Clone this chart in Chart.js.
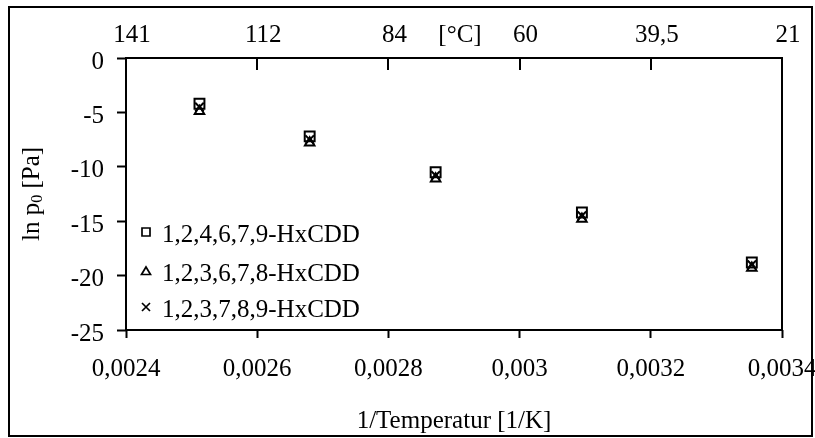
<!DOCTYPE html>
<html>
<head>
<meta charset="utf-8">
<script src="https://cdn.jsdelivr.net/npm/chart.js@4.4.1/dist/chart.umd.min.js"></script>
<style>
  html, body { margin: 0; padding: 0; background: #fff; }
  #chart { display: block; }
</style>
</head>
<body>
<canvas id="chart" width="815" height="438"></canvas>
<script>
// 1/T values of the measurements (125, 100, 75, 50, 25 °C)
const invTemps = [0.002512, 0.002680, 0.002872, 0.003095, 0.003354];
const hx124679 = [-4.2, -7.2, -10.5, -14.2, -18.8];
const hx123678 = [-4.9, -7.8, -11.1, -14.8, -19.3];
const hx123789 = [-4.5, -7.5, -10.8, -14.5, -19.0];
const seriesNames = ['1,2,4,6,7,9-HxCDD', '1,2,3,6,7,8-HxCDD', '1,2,3,7,8,9-HxCDD'];

const xTickValues = [0.0024, 0.0026, 0.0028, 0.0030, 0.0032, 0.0034];
const xTickLabels = ['0,0024', '0,0026', '0,0028', '0,003', '0,0032', '0,0034'];
const topTickValues = [0.0024, 0.0026, 0.0028, 0.0029, 0.0030, 0.0032, 0.0034];
const topTickLabels = ['141', '112', '84', '[°C]', '60', '39,5', '21'];
const yTickValues = [0, -5, -10, -15, -20, -25];

const FONT = '"Liberation Serif", "Times New Roman", serif';
const FS = 25;

const toPoints = ys => invTemps.map((x, i) => ({ x: x, y: ys[i] }));

function series(label, ys, style, radius) {
  return {
    label: label,
    data: toPoints(ys),
    showLine: false,
    pointStyle: style,
    pointRadius: radius,
    pointHoverRadius: radius,
    pointBorderColor: '#000',
    pointBackgroundColor: 'rgba(0,0,0,0)',
    pointBorderWidth: 2
  };
}

// frame, inward top ticks, y title with subscript, legend inside plot
const decor = {
  id: 'decor',
  afterDraw(c) {
    const ctx = c.ctx, a = c.chartArea;
    ctx.save();
    ctx.strokeStyle = '#000';
    ctx.fillStyle = '#000';
    ctx.lineWidth = 2;
    ctx.strokeRect(9, 7, 803, 429);
    ctx.strokeRect(a.left, a.top, a.right - a.left, a.bottom - a.top);

    const top = c.scales.xTop;
    xTickValues.forEach(v => {
      const px = Math.round(top.getPixelForValue(v));
      ctx.beginPath();
      ctx.moveTo(px, a.top);
      ctx.lineTo(px, a.top + 12);
      ctx.stroke();
    });

    // y axis title: ln p0 [Pa]
    ctx.save();
    ctx.translate(32, (a.top + a.bottom) / 2);
    ctx.rotate(-Math.PI / 2);
    ctx.textBaseline = 'middle';
    ctx.font = FS + 'px ' + FONT;
    const p1 = 'ln p', p3 = ' [Pa]';
    const w1 = ctx.measureText(p1).width;
    const w3 = ctx.measureText(p3).width;
    ctx.font = '16px ' + FONT;
    const w2 = ctx.measureText('0').width;
    const x = -(w1 + w2 + w3) / 2;
    ctx.font = FS + 'px ' + FONT;
    ctx.fillText(p1, x, 0);
    ctx.font = '16px ' + FONT;
    ctx.fillText('0', x + w1, 6);
    ctx.font = FS + 'px ' + FONT;
    ctx.fillText(p3, x + w1 + w2, 0);
    ctx.restore();

    // legend
    const rows = [232, 271, 307];
    const mx = 146;
    ctx.lineWidth = 1.7;
    ctx.font = FS + 'px ' + FONT;
    ctx.textBaseline = 'middle';
    c.data.datasets.forEach((ds, i) => {
      const y = rows[i];
      ctx.beginPath();
      if (ds.pointStyle === 'rect') {
        ctx.rect(mx - 4, y - 4, 8, 8);
      } else if (ds.pointStyle === 'triangle') {
        ctx.moveTo(mx, y - 4);
        ctx.lineTo(mx + 4.5, y + 3.5);
        ctx.lineTo(mx - 4.5, y + 3.5);
        ctx.closePath();
      } else {
        ctx.moveTo(mx - 4, y - 4); ctx.lineTo(mx + 4, y + 4);
        ctx.moveTo(mx + 4, y - 4); ctx.lineTo(mx - 4, y + 4);
      }
      ctx.stroke();
      ctx.fillText(ds.label, 162, y + 3);
    });
    ctx.restore();
  }
};

new Chart(document.getElementById('chart'), {
  type: 'scatter',
  data: {
    datasets: [
      series(seriesNames[0], hx124679, 'rect', 7),
      series(seriesNames[1], hx123678, 'triangle', 5.5),
      series(seriesNames[2], hx123789, 'crossRot', 6)
    ]
  },
  options: {
    responsive: false,
    animation: false,
    devicePixelRatio: 1,
    layout: { padding: { left: 0, right: 33, top: 0, bottom: 0 } },
    plugins: { legend: { display: false }, tooltip: { enabled: false } },
    scales: {
      x: {
        type: 'linear',
        position: 'bottom',
        min: 0.0024,
        max: 0.0034,
        afterBuildTicks: s => { s.ticks = xTickValues.map(v => ({ value: v })); },
        afterFit: s => { s.height = 108; s.paddingLeft = 0; s.paddingRight = 0; },
        border: { display: false },
        grid: { drawOnChartArea: false, tickLength: 8, tickWidth: 2, tickColor: '#000' },
        ticks: {
          autoSkip: false, maxRotation: 0, padding: 16, color: '#000',
          font: { family: FONT, size: FS },
          callback: (v, i) => xTickLabels[i]
        },
        title: {
          display: true, text: '1/Temperatur [1/K]', color: '#000',
          font: { family: FONT, size: FS }, padding: { top: 0, bottom: 2 }
        }
      },
      xTop: {
        type: 'linear',
        position: 'top',
        min: 0.0024,
        max: 0.0034,
        afterBuildTicks: s => { s.ticks = topTickValues.map(v => ({ value: v })); },
        afterFit: s => { s.height = 58; s.paddingLeft = 0; s.paddingRight = 0; },
        border: { display: false },
        grid: { display: false },
        ticks: {
          autoSkip: false, maxRotation: 0, padding: 0, labelOffset: 6, color: '#000',
          font: { family: FONT, size: FS },
          callback: (v, i) => topTickLabels[i]
        }
      },
      y: {
        type: 'linear',
        min: -25,
        max: 0,
        afterBuildTicks: s => { s.ticks = yTickValues.map(v => ({ value: v })); },
        afterFit: s => { s.width = 126; },
        border: { display: false },
        grid: { drawOnChartArea: false, tickLength: 9, tickWidth: 2, tickColor: '#000' },
        ticks: {
          padding: 13, labelOffset: 4, color: '#000',
          font: { family: FONT, size: FS },
          callback: v => String(v)
        }
      }
    }
  },
  plugins: [decor]
});
</script>
</body>
</html>
